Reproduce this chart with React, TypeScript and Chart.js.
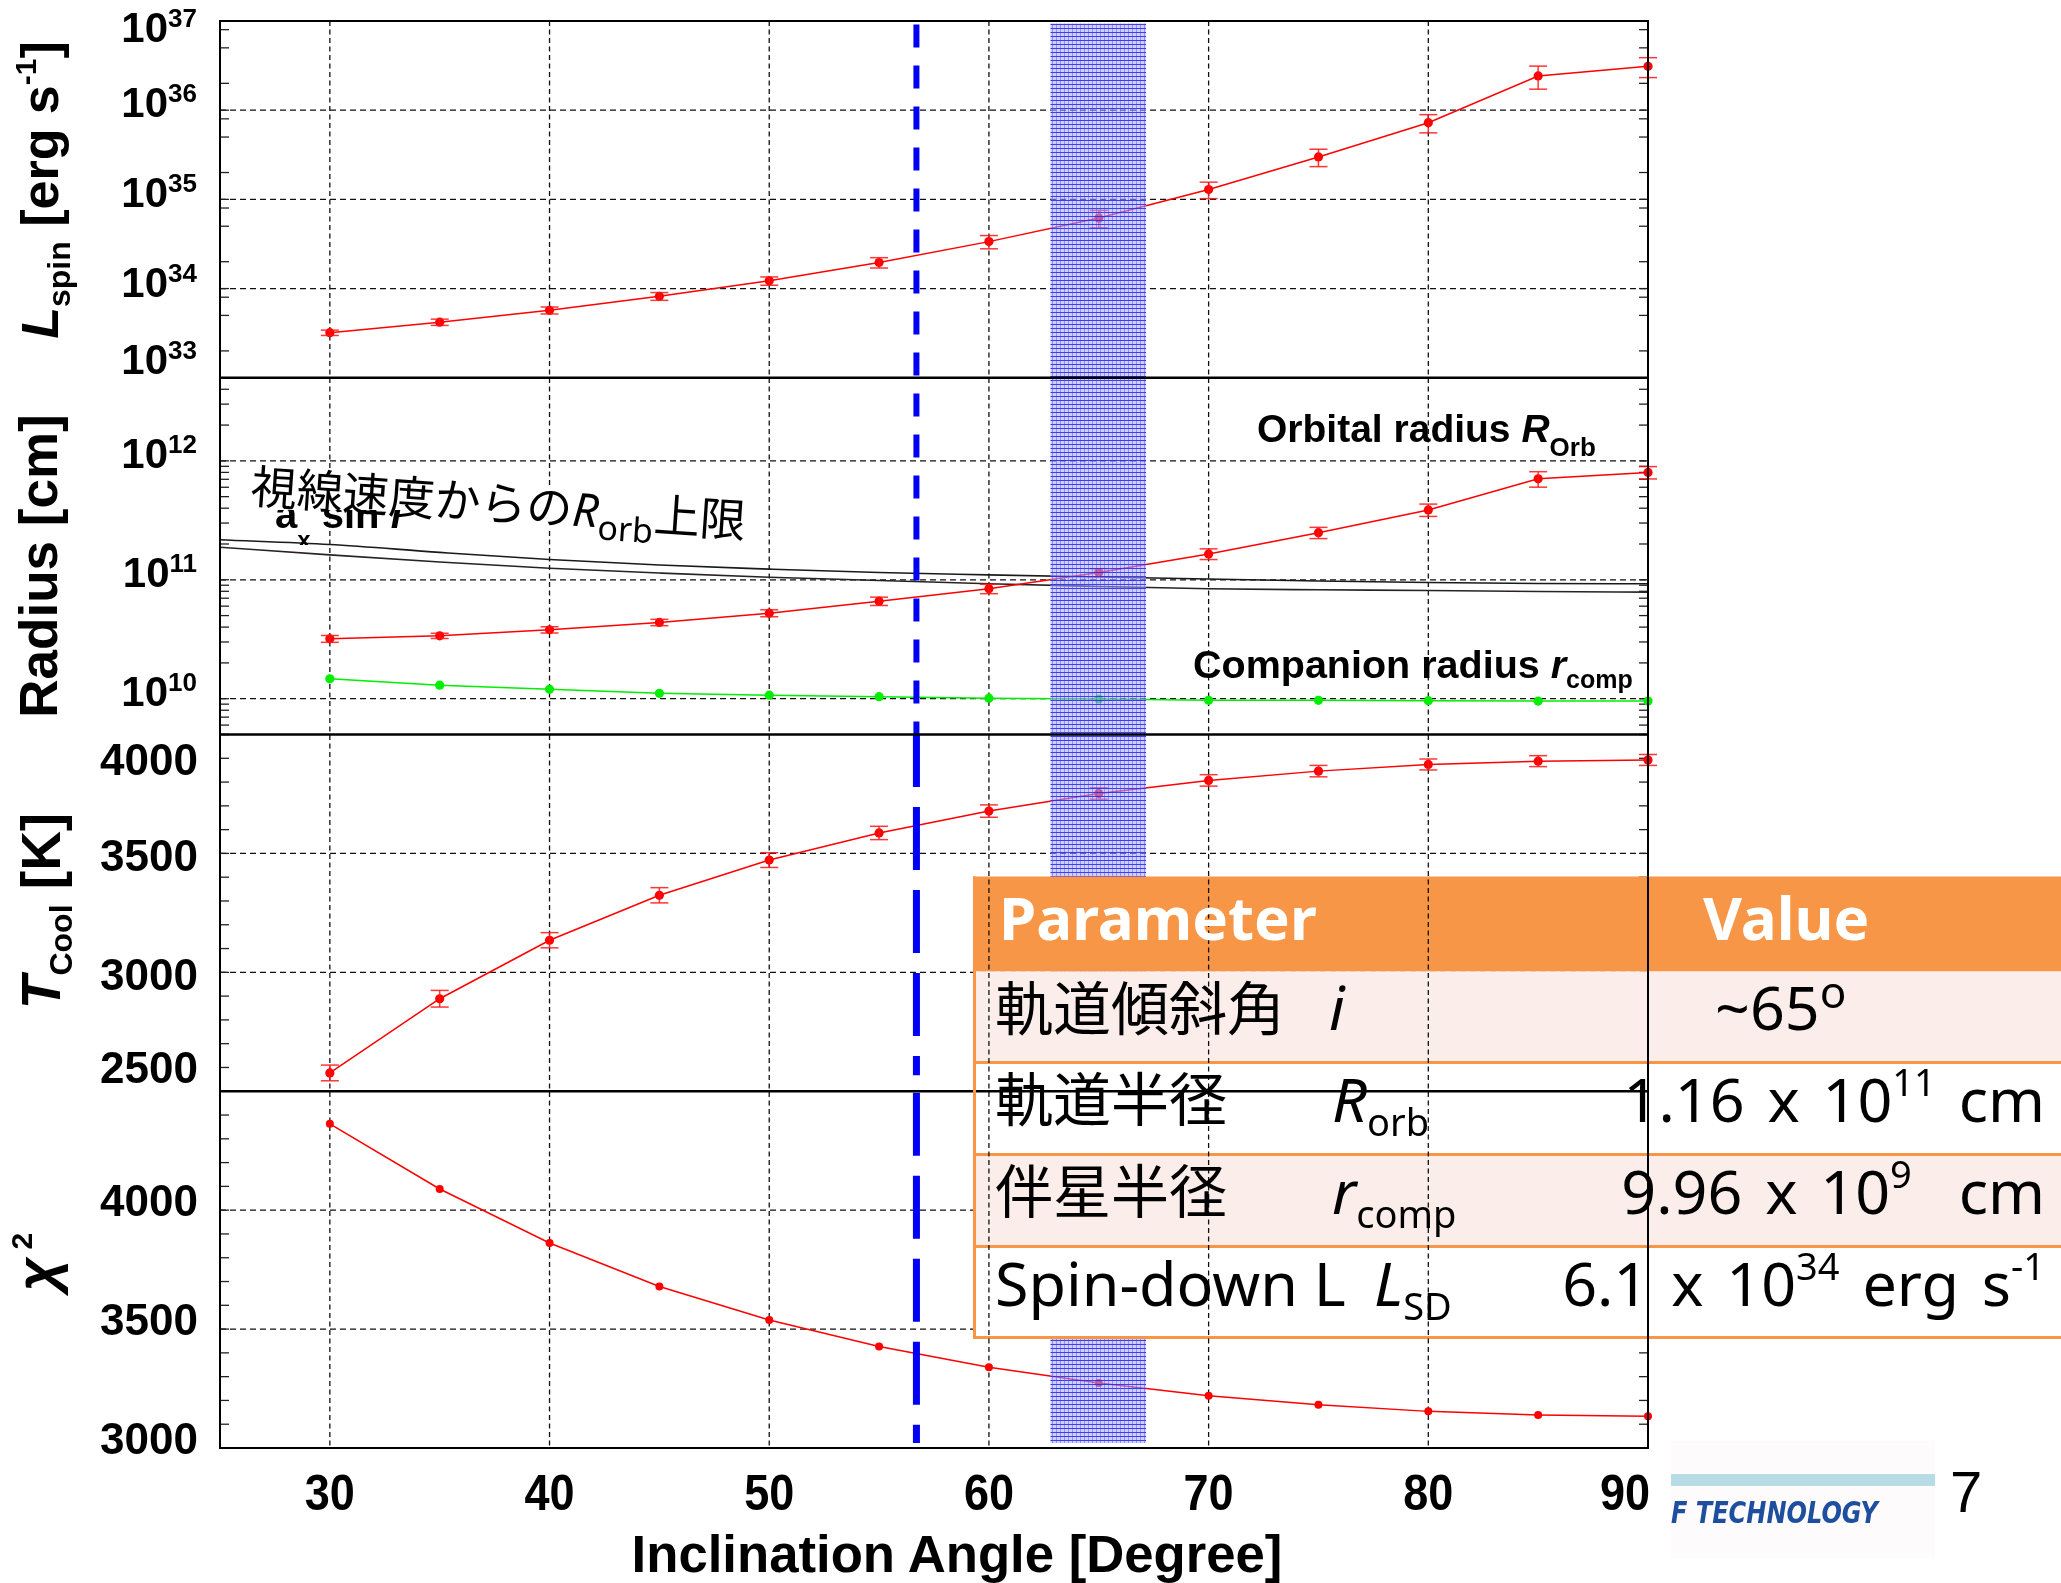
import React, { useEffect, useRef } from 'react';
import { Chart, registerables } from 'chart.js';

Chart.register(...registerables);

const W = 2061;
const H = 1583;

// ---------------- data ----------------
const angles = [30, 35, 40, 45, 50, 55, 60, 65, 70, 75, 80, 85, 90];
const lspin = [3.2e33, 4.2e33, 5.7e33, 8.2e33, 1.22e34, 1.96e34, 3.36e34, 6.17e34, 1.29e35, 2.99e35, 7.24e35, 2.42e36, 3.1e36];
const lspinErr = [0.22e33, 0.34e33, 0.51e33, 0.82e33, 0.13e34, 0.26e34, 0.57e34, 1.36e34, 0.27e35, 0.66e35, 1.67e35, 0.7e36, 0.78e36];
const rorb = [3.19e10, 3.38e10, 3.8e10, 4.38e10, 5.24e10, 6.61e10, 8.4e10, 1.15e11, 1.65e11, 2.49e11, 3.87e11, 7.06e11, 8.0e11];
const rorbErr = [0.21e10, 0.17e10, 0.23e10, 0.27e10, 0.35e10, 0.53e10, 0.76e10, 0.09e11, 0.17e11, 0.27e11, 0.46e11, 1.05e11, 0.95e11];
const rcomp = [1.47e10, 1.3e10, 1.2e10, 1.11e10, 1.07e10, 1.04e10, 1.01e10, 9.93e9, 9.69e9, 9.69e9, 9.62e9, 9.55e9, 9.55e9];
const tcool = [2577, 2889, 3135, 3324, 3472, 3586, 3678, 3752, 3807, 3846, 3874, 3888, 3893];
const tcoolErr = [33, 35, 32, 32, 31, 28, 26, 24, 24, 24, 23, 23, 23];
const chi2 = [4363, 4089, 3862, 3679, 3538, 3427, 3340, 3273, 3220, 3182, 3154, 3139, 3133];
const limitAngles = [25, 30, 35, 40, 45, 50, 55, 60, 65, 70, 75, 80, 85, 90];
const limitHigh = [2.17e11, 1.98e11, 1.7e11, 1.48e11, 1.33e11, 1.23e11, 1.15e11, 1.1e11, 1.055e11, 1.016e11, 9.78e10, 9.49e10, 9.31e10, 9.25e10];
const limitLow = [1.88e11, 1.62e11, 1.41e11, 1.25e11, 1.14e11, 1.05e11, 9.87e10, 9.25e10, 8.79e10, 8.4e10, 8.24e10, 8.13e10, 7.98e10, 7.87e10];
const bestAngle = 56.7;
const bandAngles = [62.8, 67.15];

// ---------------- tick values ----------------
const xTickValues = [30, 40, 50, 60, 70, 80, 90];
const xGridValues = [30, 40, 50, 60, 70, 80];
const lspinExps = [33, 34, 35, 36, 37];
const lspinMinorMult = [2, 5, 8];
const radiusExps = [10, 11, 12];
const radiusMinorMult = [2, 3, 4, 5, 6, 7, 8, 9];
const tcoolLabels = [2500, 3000, 3500, 4000];
const chi2Labels = [3000, 3500, 4000];

const FONT = "'Liberation Sans', Arial, Helvetica, sans-serif";

function seg(ctx: any, x0: number, y0: number, x1: number, y1: number) {
  ctx.beginPath();
  ctx.moveTo(x0, y0);
  ctx.lineTo(x1, y1);
  ctx.stroke();
}

function buildPanels() {
  const lTicks: number[] = [];
  lspinExps.forEach((e, i) => {
    lTicks.push(Math.pow(10, e));
    if (i < lspinExps.length - 1) lspinMinorMult.forEach((m) => lTicks.push(m * Math.pow(10, e)));
  });
  const rTicks: number[] = [];
  [9, 10, 11, 12].forEach((e) => {
    rTicks.push(Math.pow(10, e));
    radiusMinorMult.forEach((m) => rTicks.push(m * Math.pow(10, e)));
  });
  const tTicks: number[] = [];
  for (let v = 2500; v <= 4000; v += 100) tTicks.push(v);
  const cTicks: number[] = [];
  for (let v = 3000; v <= 4500; v += 100) cTicks.push(v);
  const lDy = [-4, 8.5, 7.5, 7, 21];
  const tDy = [-8, 17.5, 17.3, 40];
  return [
    {
      id: 'yL',
      grid: [1e34, 1e35, 1e36],
      ticks: lTicks,
      labels: lspinExps.map((e, i) => ({ v: Math.pow(10, e), text: '10', sup: String(e), dy: lDy[i] })),
    },
    {
      id: 'yR',
      grid: radiusExps.map((e) => Math.pow(10, e)),
      ticks: rTicks,
      labels: radiusExps.map((e) => ({ v: Math.pow(10, e), text: '10', sup: String(e), dy: 7.5 })),
    },
    {
      id: 'yT',
      grid: [3000, 3500],
      ticks: tTicks,
      labels: tcoolLabels.map((v, i) => ({ v, text: String(v), sup: '', dy: tDy[i] })),
    },
    {
      id: 'yC',
      grid: [3500, 4000],
      ticks: cTicks,
      labels: chi2Labels.map((v) => ({ v, text: String(v), sup: '', dy: 6.3 })),
    },
  ];
}

const panels = buildPanels();

const errorSets = [
  { axis: 'yL', vals: lspin, errs: lspinErr },
  { axis: 'yR', vals: rorb, errs: rorbErr },
  { axis: 'yT', vals: tcool, errs: tcoolErr },
];

// table layout (slide overlay)
const TBL = {
  left: 973,
  top: 876.5,
  bottom: 1339,
  rows: [
    { y0: 876.5, y1: 971.5, fill: '#F79646' },
    { y0: 971.5, y1: 1061, fill: '#FBEDE9' },
    { y0: 1061, y1: 1153, fill: '#FFFFFF' },
    { y0: 1153, y1: 1245, fill: '#FBEDE9' },
    { y0: 1245, y1: 1336, fill: '#FFFFFF' },
  ],
  seps: [1061, 1153, 1245, 1336],
};

function makePattern(ctx: any) {
  const c = document.createElement('canvas');
  c.width = 4;
  c.height = 4;
  const g = c.getContext('2d') as CanvasRenderingContext2D;
  g.fillStyle = 'rgba(170,170,255,0.55)';
  g.fillRect(0, 0, 4, 4);
  g.fillStyle = 'rgba(35,35,240,0.85)';
  g.fillRect(0, 0, 4, 1);
  g.fillStyle = 'rgba(90,90,250,0.55)';
  g.fillRect(0, 1, 1, 3);
  return ctx.createPattern(c, 'repeat');
}

function drawPow(ctx: any, base: string, sup: string, xRight: number, y: number) {
  ctx.textAlign = 'left';
  ctx.font = `bold 26px ${FONT}`;
  const sw = ctx.measureText(sup).width;
  ctx.font = `bold 42px ${FONT}`;
  const bw = ctx.measureText(base).width;
  ctx.fillText(base, xRight - sw - bw, y);
  ctx.font = `bold 26px ${FONT}`;
  ctx.fillText(sup, xRight - sw, y - 15);
}

const decorPlugin = {
  id: 'decor',
  beforeDatasetsDraw(chart: any) {
    const ctx = chart.ctx;
    const ca = chart.chartArea;
    const sx = chart.scales.x;
    ctx.save();
    ctx.strokeStyle = '#111';
    ctx.lineWidth = 1.3;
    ctx.setLineDash([5, 3.5]);
    for (const v of xGridValues) {
      const x = sx.getPixelForValue(v);
      seg(ctx, x, ca.top, x, ca.bottom);
    }
    ctx.setLineDash([6, 4]);
    for (const p of panels) {
      const s = chart.scales[p.id];
      for (const v of p.grid) {
        const y = s.getPixelForValue(v);
        seg(ctx, ca.left, y, ca.right, y);
      }
    }
    ctx.setLineDash([]);
    ctx.strokeStyle = '#222';
    ctx.lineWidth = 1.3;
    for (const p of panels) {
      const s = chart.scales[p.id];
      for (const v of p.ticks) {
        const y = s.getPixelForValue(v);
        if (y < s.top - 0.5 || y > s.bottom + 0.5) continue;
        seg(ctx, ca.left, y, ca.left + 9, y);
        seg(ctx, ca.right - 9, y, ca.right, y);
      }
    }
    ctx.restore();
  },
  afterDatasetsDraw(chart: any) {
    const ctx = chart.ctx;
    const ca = chart.chartArea;
    const sx = chart.scales.x;
    ctx.save();
    // error bars
    ctx.strokeStyle = 'rgba(255,20,20,0.85)';
    ctx.lineWidth = 1.5;
    for (const es of errorSets) {
      const s = chart.scales[es.axis];
      angles.forEach((a, i) => {
        const x = sx.getPixelForValue(a);
        const y1 = s.getPixelForValue(es.vals[i] + es.errs[i]);
        const y2 = s.getPixelForValue(es.vals[i] - es.errs[i]);
        seg(ctx, x, y1, x, y2);
        seg(ctx, x - 9, y1, x + 9, y1);
        seg(ctx, x - 9, y2, x + 9, y2);
      });
    }
    // hatched band
    const x0 = sx.getPixelForValue(bandAngles[0]);
    const x1 = sx.getPixelForValue(bandAngles[1]);
    ctx.fillStyle = makePattern(ctx);
    ctx.fillRect(x0, ca.top + 2.5, x1 - x0, ca.bottom - ca.top - 7.5);
    // blue dashed line
    const xb = sx.getPixelForValue(bestAngle);
    const yR = chart.scales.yR;
    const yT = chart.scales.yT;
    const yC = chart.scales.yC;
    ctx.strokeStyle = '#0000f2';
    ctx.lineWidth = 6;
    ctx.setLineDash([23, 18]);
    ctx.lineDashOffset = 37.4;
    seg(ctx, xb, ca.top, xb, yR.bottom);
    ctx.lineWidth = 7;
    ctx.setLineDash([63, 20]);
    ctx.lineDashOffset = 10.5;
    seg(ctx, xb, yT.top, xb, yT.bottom - 16);
    ctx.lineDashOffset = 81.5;
    seg(ctx, xb, yC.top, xb, yC.bottom - 5);
    ctx.setLineDash([]);
    ctx.lineDashOffset = 0;
    // frames
    ctx.strokeStyle = '#000';
    ctx.lineWidth = 2;
    ctx.strokeRect(ca.left, ca.top, ca.right - ca.left, ca.bottom - ca.top);
    ctx.lineWidth = 2.5;
    ['yL', 'yR', 'yT'].forEach((id) => {
      const y = chart.scales[id].bottom;
      seg(ctx, ca.left, y, ca.right, y);
    });
    ctx.restore();
  },
  afterDraw(chart: any) {
    const ctx = chart.ctx;
    const ca = chart.chartArea;
    const sx = chart.scales.x;
    ctx.save();
    // ---- table backgrounds ----
    for (const r of TBL.rows) {
      ctx.fillStyle = r.fill;
      ctx.fillRect(TBL.left, r.y0, W - TBL.left, r.y1 - r.y0);
    }
    ctx.fillStyle = '#F79646';
    for (const y of TBL.seps) ctx.fillRect(TBL.left, y, W - TBL.left, 3);
    ctx.fillRect(TBL.left, TBL.top, 3, TBL.bottom - TBL.top);
    // lines of the plot that show through the table
    ctx.save();
    ctx.beginPath();
    ctx.rect(TBL.left + 3, TBL.top, W - TBL.left, TBL.bottom - TBL.top);
    ctx.clip();
    ctx.strokeStyle = '#111';
    ctx.lineWidth = 1.3;
    ctx.setLineDash([5, 3.5]);
    for (const v of xGridValues) {
      const x = sx.getPixelForValue(v);
      seg(ctx, x, ca.top, x, ca.bottom);
    }
    ctx.setLineDash([]);
    ctx.strokeStyle = '#000';
    ctx.lineWidth = 2;
    seg(ctx, ca.right, ca.top, ca.right, ca.bottom);
    ctx.lineWidth = 2.5;
    const yd = chart.scales.yT.bottom;
    seg(ctx, ca.left, yd, ca.right, yd);
    ctx.restore();

    // ---- y tick labels ----
    ctx.fillStyle = '#000';
    ctx.textBaseline = 'alphabetic';
    for (const p of panels) {
      const s = chart.scales[p.id];
      for (const l of p.labels) {
        const y = s.getPixelForValue(l.v) + l.dy;
        if (l.sup) {
          drawPow(ctx, l.text, l.sup, 197, y);
        } else {
          ctx.font = `bold 44px ${FONT}`;
          ctx.textAlign = 'right';
          ctx.fillText(l.text, 198, y);
        }
      }
    }
    // ---- x tick labels ----
    ctx.font = `bold 50px ${FONT}`;
    ctx.textAlign = 'left';
    const sc = 0.9;
    for (const v of xTickValues) {
      const x = sx.getPixelForValue(v);
      const t = String(v);
      const w = ctx.measureText(t).width;
      let tx = -w / 2;
      if (x + (w * sc) / 2 > ca.right + 2) tx = (ca.right + 2 - x) / sc - w;
      ctx.save();
      ctx.translate(x, ca.bottom + 62);
      ctx.scale(sc, 1);
      ctx.fillText(t, tx, 0);
      ctx.restore();
    }
    ctx.restore();
  },
};

function pts(xs: number[], ys: number[]) {
  return xs.map((x, i) => ({ x, y: ys[i] }));
}

function hiddenAxis(extra: any) {
  return {
    display: true,
    bounds: 'data',
    grid: { display: false, drawTicks: false },
    border: { display: false },
    ticks: { display: false },
    title: { display: false },
    ...extra,
  };
}

function makeConfig(): any {
  const red = '#ff0000';
  const series = (data: any, axis: string, color: string, r: number) => ({
    data,
    yAxisID: axis,
    borderColor: color,
    backgroundColor: color,
    pointBackgroundColor: color,
    pointBorderWidth: 0,
    pointRadius: r,
    borderWidth: 1.5,
    tension: 0,
    clip: false,
  });
  return {
    type: 'line',
    data: {
      datasets: [
        series(pts(angles, lspin), 'yL', red, 4.6),
        series(pts(angles, rorb), 'yR', red, 4.6),
        series(pts(angles, rcomp), 'yR', '#00ee00', 4.6),
        {
          data: pts(limitAngles, limitHigh),
          yAxisID: 'yR',
          borderColor: '#1a1a1a',
          borderWidth: 1.6,
          pointRadius: 0,
          tension: 0.4,
          cubicInterpolationMode: 'monotone',
          clip: false,
        },
        {
          data: pts(limitAngles, limitLow),
          yAxisID: 'yR',
          borderColor: '#2a2222',
          borderWidth: 1.6,
          pointRadius: 0,
          tension: 0.4,
          cubicInterpolationMode: 'monotone',
          clip: false,
        },
        series(pts(angles, tcool), 'yT', red, 4.6),
        series(pts(angles, chi2), 'yC', red, 4),
      ],
    },
    options: {
      animation: false,
      responsive: false,
      devicePixelRatio: 1,
      events: [],
      layout: { padding: { left: 220, top: 21, right: W - 1648, bottom: H - 1448 } },
      plugins: { legend: { display: false }, tooltip: { enabled: false } },
      scales: {
        x: hiddenAxis({ type: 'linear', position: 'bottom', min: 25, max: 90 }),
        yL: hiddenAxis({ type: 'logarithmic', position: 'left', min: 1e33, max: 1e37, stack: 'panels', stackWeight: 1, weight: 4 }),
        yR: hiddenAxis({ type: 'logarithmic', position: 'left', min: 5e9, max: 5e12, stack: 'panels', stackWeight: 1, weight: 3 }),
        yT: hiddenAxis({ type: 'linear', position: 'left', min: 2500, max: 4000, stack: 'panels', stackWeight: 1, weight: 2 }),
        yC: hiddenAxis({ type: 'linear', position: 'left', min: 3000, max: 4500, stack: 'panels', stackWeight: 1, weight: 1 }),
      },
    },
    plugins: [decorPlugin],
  };
}

const LAT = "'Liberation Sans', Arial, sans-serif";
const NOTO = "'Noto Sans', 'Noto Sans CJK JP', sans-serif";
const CJK = "'Noto Sans CJK JP', 'Noto Sans', sans-serif";

export default function App() {
  const ref = useRef<HTMLCanvasElement>(null);
  useEffect(() => {
    const canvas = ref.current as HTMLCanvasElement;
    const chart = new Chart(canvas, makeConfig());
    return () => chart.destroy();
  }, []);

  return (
    <div style={{ position: 'absolute', left: 0, top: 0, width: W, height: H, background: '#fff', overflow: 'hidden' }}>
      <canvas ref={ref} width={W} height={H} style={{ position: 'absolute', left: 0, top: 0, width: W, height: H }} />
      <svg width={W} height={H} style={{ position: 'absolute', left: 0, top: 0 }} xmlns="http://www.w3.org/2000/svg">
        <defs>
          <clipPath id="clipAx">
            <rect x={268} y={510} width={150} height={35} />
          </clipPath>
        </defs>

        {/* axis titles */}
        <g fontFamily={LAT} fontWeight="bold" fill="#000">
          <text transform="translate(58,190) rotate(-90)" textAnchor="middle" fontSize={52}>
            <tspan fontStyle="italic">L</tspan>
            <tspan fontSize={32} dy={12}>spin</tspan>
            <tspan dy={-12}>{' [erg s'}</tspan>
            <tspan fontSize={30} dy={-22}>-1</tspan>
            <tspan dy={22}>]</tspan>
          </text>
          <text transform="translate(57,566) rotate(-90)" textAnchor="middle" fontSize={53}>
            Radius [cm]
          </text>
          <text transform="translate(60,911) rotate(-90)" textAnchor="middle" fontSize={55}>
            <tspan fontStyle="italic">T</tspan>
            <tspan fontSize={32} dy={12}>Cool</tspan>
            <tspan dy={-12}>{' [K]'}</tspan>
          </text>
          <text transform="translate(56,1262) rotate(-90)" textAnchor="middle" fontSize={58}>
            <tspan fontStyle="italic">χ</tspan>
            <tspan fontSize={30} dy={-24}>{' 2'}</tspan>
          </text>
          <text x={957} y={1572} textAnchor="middle" fontSize={52.7}>
            Inclination Angle [Degree]
          </text>

          {/* panel annotations */}
          <text x={1257} y={442} fontSize={39}>
            {'Orbital radius '}
            <tspan fontStyle="italic">R</tspan>
            <tspan fontSize={26} dy={14}>Orb</tspan>
          </text>
          <text x={1193} y={678} fontSize={39.5}>
            {'Companion radius '}
            <tspan fontStyle="italic">r</tspan>
            <tspan fontSize={25} dy={10}>comp</tspan>
          </text>
        </g>

        {/* upper-limit annotation */}
        <g transform="rotate(4 250 503)">
          <rect x={244} y={465} width={520} height={44} fill="#fff" />
          <text x={250} y={503} fontFamily={CJK} fontSize={46} fill="#000">
            視線速度からの
            <tspan fontFamily={NOTO} fontStyle="italic">R</tspan>
            <tspan fontFamily={NOTO} fontSize={34} dy={12}>orb</tspan>
            <tspan dy={-12}>上限</tspan>
          </text>
        </g>
        <text x={275} y={528} fontFamily={LAT} fontWeight="bold" fontSize={40} fill="#000" clipPath="url(#clipAx)">
          a<tspan fontSize={24} dy={20}>x</tspan>
          <tspan dy={-20}>{' sin '}</tspan>
          <tspan fontStyle="italic">i</tspan>
        </text>

        {/* table text */}
        <g fontFamily={NOTO} fill="#000">
          <text x={999} y={940} fontSize={60} fontWeight="bold" fill="#fff">Parameter</text>
          <text x={1703} y={940} fontSize={60} fontWeight="bold" fill="#fff">Value</text>

          <text x={995} y={1030} fontFamily={CJK} fontSize={58}>軌道傾斜角</text>
          <text x={1329} y={1030} fontSize={61} fontStyle="italic">i</text>
          <text x={1715} y={1030} fontSize={61}>
            ~65<tspan fontSize={44} dy={-22}>o</tspan>
          </text>

          <text x={995} y={1121} fontFamily={CJK} fontSize={58}>軌道半径</text>
          <text x={1332} y={1122} fontSize={61} fontStyle="italic">
            R<tspan fontStyle="normal" fontSize={38} dy={14}>orb</tspan>
          </text>
          <text x={2045} y={1122} fontSize={61} textAnchor="end" wordSpacing={7}>
            {'1.16 x 10'}
            <tspan fontSize={38} dy={-26}>11</tspan>
            <tspan dy={26}>{' cm'}</tspan>
          </text>

          <text x={995} y={1213} fontFamily={CJK} fontSize={58}>伴星半径</text>
          <text x={1332} y={1214} fontSize={61} fontStyle="italic">
            r<tspan fontStyle="normal" fontSize={38} dy={14}>comp</tspan>
          </text>
          <text x={2045} y={1214} fontSize={61} textAnchor="end" wordSpacing={7}>
            {'9.96 x 10'}
            <tspan fontSize={38} dy={-26}>9</tspan>
            <tspan dy={26} dx={24}>{' cm'}</tspan>
          </text>

          <text x={995} y={1306} fontSize={61}>Spin-down L</text>
          <text x={1374} y={1306} fontSize={61} fontStyle="italic">
            L<tspan fontStyle="normal" fontSize={38} dy={14}>SD</tspan>
          </text>
          <text x={2045} y={1306} fontSize={61} textAnchor="end" wordSpacing={7}>
            {'6.1 x 10'}
            <tspan fontSize={38} dy={-26}>34</tspan>
            <tspan dy={26}>{' erg s'}</tspan>
            <tspan fontSize={38} dy={-26}>-1</tspan>
          </text>
        </g>

        {/* footer logo fragment and page number */}
        <rect x={1671} y={1441} width={264} height={117} fill="#fefbfc" />
        <rect x={1671} y={1474} width={264} height={12} fill="#b7dce6" />
        <text x={1671} y={1523} fontFamily="'DejaVu Sans', sans-serif" fontWeight="bold" fontStyle="italic" fontSize={30} fill="#1d4f9e" textLength={207} lengthAdjust="spacingAndGlyphs">
          F TECHNOLOGY
        </text>
        <text x={1950} y={1512} fontFamily={LAT} fontSize={58} fill="#000">7</text>
      </svg>
    </div>
  );
}
